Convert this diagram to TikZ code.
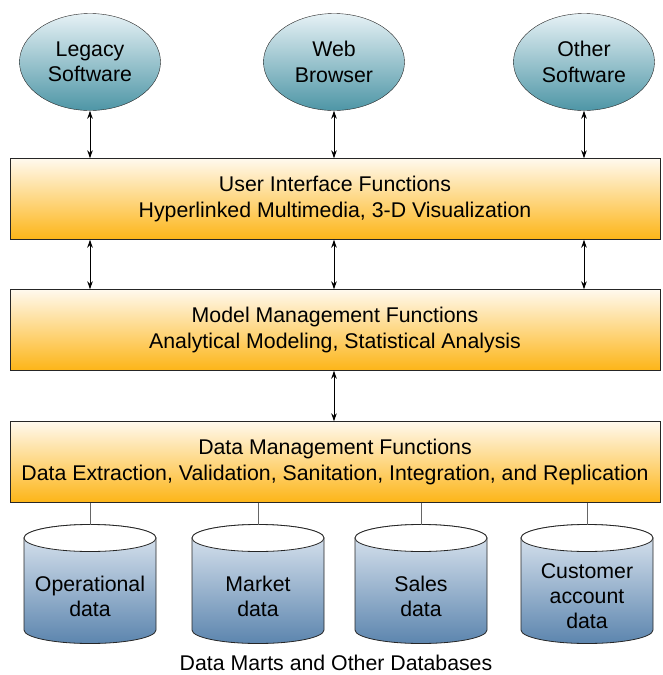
\documentclass[tikz,border=0pt]{standalone}
\usepackage{fontspec}
\setmainfont{Liberation Sans}
\usetikzlibrary{arrows.meta, shapes.geometric}

\definecolor{ovaltop}{HTML}{E6F1F5}
\definecolor{ovalbot}{HTML}{4E96A6}
\definecolor{layertop}{HTML}{FFF9EE}
\definecolor{layerbot}{HTML}{FDB517}
\definecolor{dbtop}{HTML}{E2EAF3}
\definecolor{dbbot}{HTML}{5C85AE}

\tikzset{
  app/.style={ellipse, draw=black!85, top color=ovaltop, bottom color=ovalbot,
    minimum width=141pt, minimum height=97pt, inner sep=0pt, align=center,
    font=\fontsize{21.3}{25.5}\selectfont},
  layer/.style={draw=black!85, top color=layertop, bottom color=layerbot,
    minimum width=650pt, minimum height=81pt, inner sep=0pt, align=center,
    font=\fontsize{21.3}{26}\selectfont},
  link/.style={<->, line width=1pt},
  feed/.style={draw=black!60, line width=0.8pt},
  dbtext/.style={align=center, font=\fontsize{21.3}{25}\selectfont},
}

\begin{document}
\begin{tikzpicture}[x=1pt, y=-1pt, >={Stealth[length=8pt, width=5.5pt]}]
  \useasboundingbox (0,0) rectangle (663,675);

  % --- client applications ---
  \node[app] (legacy) at (90,62)  {Legacy\\Software};
  \node[app] (web)    at (334,62) {Web\\Browser};
  \node[app] (other)  at (584,62) {Other\\Software};

  % --- function layers ---
  \node[layer] (ui)    at (335,199) {User Interface Functions\\Hyperlinked Multimedia, 3-D Visualization};
  \node[layer] (model) at (335,330) {Model Management Functions\\Analytical Modeling, Statistical Analysis};
  \node[layer] (dm)    at (335,462) {Data Management Functions\\Data Extraction, Validation, Sanitation, Integration, and Replication};

  % apps <-> user interface
  \foreach \a in {legacy, web, other}
    \draw[link] (\a.south) -- (\a.south |- ui.north);
  % user interface <-> model management
  \foreach \a in {legacy, web, other}
    \draw[link] (ui.south -| \a) -- (model.north -| \a);
  % model management <-> data management
  \draw[link] (model.south -| web) -- (dm.north -| web);

  % --- databases ---
  \foreach \cx/\db/\txt in {90/oper/Operational\\data, 258/market/Market\\data,
                            421/sales/Sales\\data, 587/cust/Customer\\account\\data} {
    \shadedraw[top color=dbtop, bottom color=dbbot, draw=black!85, line width=0.8pt]
      (\cx-66,538) -- (\cx-66,630)
      arc[start angle=180, end angle=360, x radius=66pt, y radius=13.5pt]
      -- (\cx+66,538)
      arc[start angle=0, end angle=180, x radius=66pt, y radius=13.5pt] -- cycle;
    \draw[fill=white, draw=black!85, line width=0.8pt]
      (\cx,538) ellipse[x radius=66pt, y radius=13.5pt];
    \coordinate (\db) at (\cx,524.5);
    \node[dbtext] (\db-txt) at (\cx,596) {\txt};
    \draw[feed] (dm.south -| \db) -- (\db);
  }

  \node[font=\fontsize{21.3}{24}\selectfont] (marts) at (336,663) {Data Marts and Other Databases};

\end{tikzpicture}
\end{document}
